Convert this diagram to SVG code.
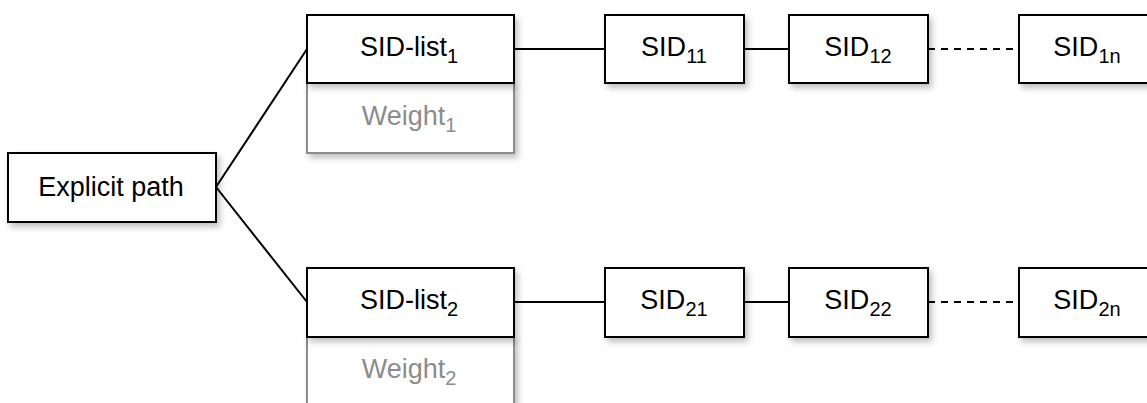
<svg xmlns="http://www.w3.org/2000/svg" width="1147" height="403" viewBox="0 0 1147 403">
<defs>
<filter id="sh" x="-10%" y="-10%" width="130%" height="140%">
<feDropShadow dx="3" dy="4" stdDeviation="3" flood-color="#000" flood-opacity="0.25"/>
</filter>
</defs>
<style>
.box{fill:#fff;stroke:#000;stroke-width:2;filter:url(#sh)}
.wbox{fill:#fff;stroke:#8c8c8c;stroke-width:2;filter:url(#sh)}
.t{font-family:"Liberation Sans",Arial,sans-serif;font-size:27px;fill:#000;text-anchor:middle}
.w{fill:#8c8c8c}
.sub{font-size:20px}
.ln{stroke:#000;stroke-width:2;fill:none}
.dash{stroke-dasharray:7,6}
</style>
<rect width="1147" height="403" fill="#fff"/>
<g id="connectors">
<line class="ln" x1="216" y1="187" x2="307" y2="49"/>
<line class="ln" x1="216" y1="187" x2="307" y2="302"/>
<line class="ln" x1="514" y1="49" x2="605" y2="49"/>
<line class="ln" x1="744" y1="49" x2="789" y2="49"/>
<line class="ln dash" x1="928" y1="49" x2="1019" y2="49"/>
<line class="ln" x1="514" y1="302" x2="605" y2="302"/>
<line class="ln" x1="744" y1="302" x2="789" y2="302"/>
<line class="ln dash" x1="928" y1="302" x2="1019" y2="302"/>
</g>
<g id="explicit-path">
<rect class="box" x="8" y="153" width="208" height="69"/>
<text class="t" x="111" y="196">Explicit path</text>
</g>
<g id="sid-list-1">
<rect class="wbox" x="307" y="83" width="207" height="70"/>
<rect class="box" x="307" y="15" width="207" height="68"/>
<text class="t" x="409" y="56">SID-list<tspan class="sub" dy="7">1</tspan></text>
<text class="t w" x="409" y="125">Weight<tspan class="sub" dy="7">1</tspan></text>
</g>
<g id="sid-11">
<rect class="box" x="605" y="15" width="139" height="68"/>
<text class="t" x="674" y="56">SID<tspan class="sub" dy="7">11</tspan></text>
</g>
<g id="sid-12">
<rect class="box" x="789" y="15" width="139" height="68"/>
<text class="t" x="858" y="56">SID<tspan class="sub" dy="7">12</tspan></text>
</g>
<g id="sid-1n">
<rect class="box" x="1019" y="15" width="139" height="68"/>
<text class="t" x="1087" y="56">SID<tspan class="sub" dy="7">1n</tspan></text>
</g>
<g id="sid-list-2">
<rect class="wbox" x="307" y="337" width="207" height="70"/>
<rect class="box" x="307" y="268" width="207" height="69"/>
<text class="t" x="409" y="309">SID-list<tspan class="sub" dy="7">2</tspan></text>
<text class="t w" x="409" y="378">Weight<tspan class="sub" dy="7">2</tspan></text>
</g>
<g id="sid-21">
<rect class="box" x="605" y="268" width="139" height="69"/>
<text class="t" x="674" y="309">SID<tspan class="sub" dy="7">21</tspan></text>
</g>
<g id="sid-22">
<rect class="box" x="789" y="268" width="139" height="69"/>
<text class="t" x="858" y="309">SID<tspan class="sub" dy="7">22</tspan></text>
</g>
<g id="sid-2n">
<rect class="box" x="1019" y="268" width="139" height="69"/>
<text class="t" x="1087" y="309">SID<tspan class="sub" dy="7">2n</tspan></text>
</g>
</svg>
